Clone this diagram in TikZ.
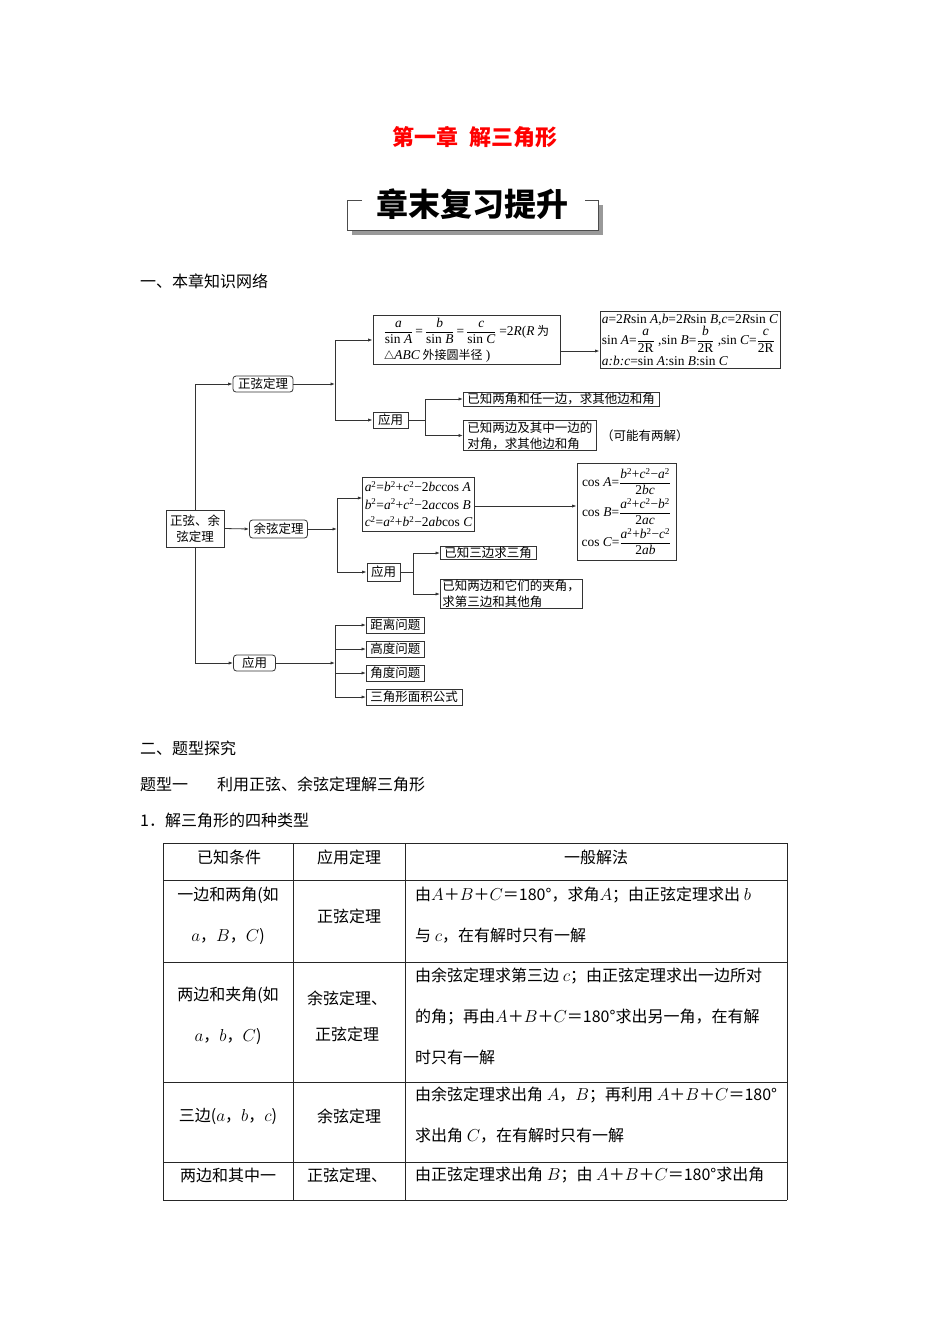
\documentclass[tikz,border=0pt]{standalone}
\usepackage{amsmath}
\usepackage{fontspec}
\setmainfont{Noto Sans CJK SC}
\newfontfamily\latin[Scale=1.12]{Liberation Serif}
\usepackage{tikz}
\usetikzlibrary{arrows.meta, positioning, calc}

\newcommand\diafont{\fontsize{12.5}{16}\selectfont}
\newcommand\formfont{\fontsize{12}{15}\selectfont}
\newcommand\bodyfont{\fontsize{16}{41}\selectfont}
% latin pieces of the formulas
\newcommand\vi[1]{{\latin\itshape #1}}
\newcommand\tx[1]{{\latin #1}}
\newcommand\pw{\textsuperscript{\tx{2}}}
\newcommand\fr[2]{$\dfrac{\mbox{#1}}{\mbox{#2}}$}
\newcommand\sinx[1]{\tx{sin }\vi{#1}}
\newcommand\cosx[1]{\tx{cos }\vi{#1}}

\begin{document}
\begin{tikzpicture}[
    x=1pt, y=-1pt, >={Latex[length=4.5pt,width=3.2pt]},
    box/.style={draw=black!80, line width=0.8pt, font=\diafont, inner xsep=4pt, inner ysep=1pt},
    rbox/.style={box, rounded corners=3pt},
    mbox/.style={draw=black!80, line width=0.8pt, font=\formfont, inner sep=2pt, align=left},
    link/.style={draw=black!80, line width=0.8pt},
    arr/.style={link, ->},
    body/.style={font=\bodyfont, inner sep=0pt},
    grid/.style={draw=black!85, line width=0.8pt}
]
\useasboundingbox (0,0) rectangle (950,1344);

% ---- heading ----
\node[font=\fontsize{22}{26}\selectfont\bfseries, text=red] (chap) at (475,137) {第一章\hspace{0.5em}解三角形};
\node[font=\fontsize{32}{36}\selectfont\bfseries] (banner) at (472,204) {章末复习提升};
\fill[black!40] (352,230) rectangle (603,235);
\fill[black!40] (598,205) rectangle (603,235);
\draw[line width=1pt, black!70] (362,200) -- (347,200) -- (347,230) -- (598,230) -- (598,200) -- (585,200);

\node[body, anchor=west] (sec1) at (140,281) {一、本章知识网络};

% ---- root and first level ----
\node[box, align=center, minimum width=54pt, minimum height=37pt] (root) at (195,528.5) {正弦、余\\弦定理};
\node[rbox, minimum width=60pt, minimum height=16pt] (zx) at (263,384) {正弦定理};
\node[rbox, minimum width=57pt, minimum height=18pt] (yx) at (278.5,529) {余弦定理};
\node[rbox, minimum width=42pt, minimum height=16pt] (yy) at (254.5,663) {应用};
\draw[arr] (root.north) |- (zx.west);
\draw[arr] (root.east) -- (yx.west);
\draw[arr] (root.south) |- (yy.west);

% ---- sine rule branch ----
\coordinate (j1) at (335,384);
\draw[arr] (zx.east) -- (j1);
\node[mbox, minimum width=187pt, minimum height=48pt, font=\fontsize{12}{24}\selectfont] (f1) at (466.5,340)
    {\fr{\vi{a}}{\sinx{A}}\,\tx{=}\,\fr{\vi{b}}{\sinx{B}}\,\tx{=}\,\fr{\vi{c}}{\sinx{C}} \tx{=2}\vi{R}\tx{(}\vi{R} 为\\
     $\triangle$\vi{ABC} 外接圆半径\tx{ )}};
\node[mbox, minimum width=180pt, minimum height=57pt, font=\fontsize{12}{21}\selectfont] (f2) at (690,339.5)
    {\vi{a}\tx{=2}\vi{R}\sinx{A}\tx{,}\vi{b}\tx{=2}\vi{R}\sinx{B}\tx{,}\vi{c}\tx{=2}\vi{R}\sinx{C}\\
     \sinx{A}\tx{=}\fr{\vi{a}}{\tx{2R}}\tx{ ,}\sinx{B}\tx{=}\fr{\vi{b}}{\tx{2R}}\tx{ ,}\sinx{C}\tx{=}\fr{\vi{c}}{\tx{2R}}\\
     \vi{a:b:c}\tx{=}\sinx{A}\tx{:}\sinx{B}\tx{:}\sinx{C}};
\draw[arr] (j1) |- (f1.west);
\coordinate (f1out) at ([yshift=-11pt]f1.east);
\draw[arr] (f1out) -- (f1out -| f2.west);

\node[box, minimum width=35pt, minimum height=16pt] (a1) at (390.5,420) {应用};
\draw[arr] (j1) |- (a1.west);
\coordinate (j2) at (425,420);
\draw[link] (a1.east) -- (j2);
\node[box, anchor=west] (a1c1) at (463,399) {已知两角和任一边，求其他边和角};
\node[box, anchor=west, align=left] (a1c2) at (463,435.5) {已知两边及其中一边的\\对角，求其他边和角};
\draw[arr] (j2) |- (a1c1.west);
\draw[arr] (j2) |- (a1c2.west);
\node[font=\diafont, anchor=west, inner sep=0pt] (note) at (601,436) {（可能有两解）};

% ---- cosine rule branch ----
\coordinate (j3) at (337,529);
\draw[arr] (yx.east) -- (j3);
\node[mbox, minimum width=107pt, minimum height=54pt, font=\fontsize{12}{17.5}\selectfont] (f3) at (418.5,504)
    {\vi{a}\pw\tx{=}\vi{b}\pw\tx{+}\vi{c}\pw\tx{−2}\vi{bc}\cosx{A}\\
     \vi{b}\pw\tx{=}\vi{a}\pw\tx{+}\vi{c}\pw\tx{−2}\vi{ac}\cosx{B}\\
     \vi{c}\pw\tx{=}\vi{a}\pw\tx{+}\vi{b}\pw\tx{−2}\vi{ab}\cosx{C}};
\node[mbox, align=center, minimum width=99pt, minimum height=97pt, font=\fontsize{12}{30}\selectfont] (f4) at (626.5,511.5)
    {\cosx{A}\tx{=}\fr{\vi{b}\pw\tx{+}\vi{c}\pw\tx{−}\vi{a}\pw}{\tx{2}\vi{bc}}\\
     \cosx{B}\tx{=}\fr{\vi{a}\pw\tx{+}\vi{c}\pw\tx{−}\vi{b}\pw}{\tx{2}\vi{ac}}\\
     \cosx{C}\tx{=}\fr{\vi{a}\pw\tx{+}\vi{b}\pw\tx{−}\vi{c}\pw}{\tx{2}\vi{ab}}};
\coordinate (f3in) at ([yshift=6pt]f3.west);
\draw[arr] (j3) |- (f3in);
\coordinate (f3out) at ([yshift=-2pt]f3.east);
\draw[arr] (f3out) -- (f3out -| f4.west);

\node[box, minimum width=33pt, minimum height=18pt] (a2) at (383.5,572) {应用};
\draw[arr] (j3) |- (a2.west);
\coordinate (j4) at (413,572);
\draw[link] (a2.east) -- (j4);
\node[box, anchor=west] (a2c1) at (440,553) {已知三边求三角};
\node[box, anchor=west, align=left, inner xsep=2pt] (a2c2) at (440,594) {已知两边和它们的夹角，\\求第三边和其他角};
\draw[arr] (j4) |- (a2c1.west);
\draw[arr] (j4) |- (a2c2.west);

% ---- applications ----
\coordinate (j5) at (335,663);
\draw[arr] (yy.east) -- (j5);
\foreach \n/\y/\t in {b1/625/距离问题, b2/649/高度问题, b3/673/角度问题, b4/697/三角形面积公式} {
    \node[box, anchor=west, minimum height=16pt] (\n) at (366,\y) {\t};
    \draw[arr] (j5) |- (\n.west);
}

% ---- section two ----
\node[body, anchor=west] (sec2) at (140,748) {二、题型探究};
\node[body, anchor=west] (sec3) at (140,784) {题型一\hspace{1.8em}利用正弦、余弦定理解三角形};
\node[body, anchor=west] (sec4) at (140,820) {1．解三角形的四种类型};

% ---- table ----
\foreach \y in {843,880,962,1082,1162,1200} \draw[grid] (163,\y) -- (787,\y);
\foreach \x in {163,293,405,787} \draw[grid] (\x,843) -- (\x,1200);

\node[body] (h1) at (229,857) {已知条件};
\node[body] (h2) at (349,857) {应用定理};
\node[body] (h3) at (596,857) {一般解法};

\node[body, align=center] (c11) at (228,915.5) {一边和两角(如\\$a$，$B$，$C$)};
\node[body] (c12) at (349,916) {正弦定理};
\node[body, align=left, anchor=west] (c13) at (415,915.5)
    {由$A$＋$B$＋$C$＝180°，求角$A$；由正弦定理求出 $b$\\与 $c$，在有解时只有一解};

\node[body, align=center] (c21) at (228,1015.5) {两边和夹角(如\\$a$，$b$，$C$)};
\node[body, align=center, font=\fontsize{16}{36}\selectfont] (c22) at (347,1016) {余弦定理、\\正弦定理};
\node[body, align=left, anchor=west] (c23) at (415,1016)
    {由余弦定理求第三边 $c$；由正弦定理求出一边所对\\的角；再由$A$＋$B$＋$C$＝180°求出另一角，在有解\\时只有一解};

\node[body] (c31) at (228,1116) {三边($a$，$b$，$c$)};
\node[body] (c32) at (349,1116) {余弦定理};
\node[body, align=left, anchor=west] (c33) at (415,1115.5)
    {由余弦定理求出角 $A$，$B$；再利用 $A$＋$B$＋$C$＝180°\\求出角 $C$，在有解时只有一解};

\node[body] (c41) at (228,1175) {两边和其中一};
\node[body] (c42) at (347,1175) {正弦定理、};
\node[body, anchor=west] (c43) at (415,1175) {由正弦定理求出角 $B$；由 $A$＋$B$＋$C$＝180°求出角};

\end{tikzpicture}
\end{document}
